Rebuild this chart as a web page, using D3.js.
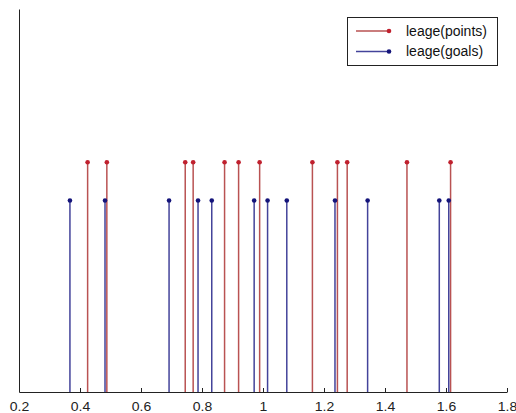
<!DOCTYPE html>
<html>
<head>
<meta charset="utf-8">
<script src="https://cdn.jsdelivr.net/npm/d3@7"></script>
<style>
  html, body { margin: 0; padding: 0; background: #fff; }
  svg { display: block; }
  .tick text { font-family: "Liberation Sans", Arial, sans-serif; }
</style>
</head>
<body>
<svg id="chart" width="516" height="413"></svg>
<script>
// stem positions (x) and heights (y) for the two series
const pointsX = [0.425, 0.488, 0.745, 0.771, 0.874, 0.920, 0.989, 1.162, 1.244, 1.276, 1.472, 1.615];
const pointsY = [3, 3, 3, 3, 3, 3, 3, 3, 3, 3, 3, 3];
const goalsX = [0.367, 0.482, 0.692, 0.787, 0.832, 0.971, 1.015, 1.078, 1.236, 1.343, 1.578, 1.609];
const goalsY = [2.5, 2.5, 2.5, 2.5, 2.5, 2.5, 2.5, 2.5, 2.5, 2.5, 2.5, 2.5];
const xTicks = [0.2, 0.4, 0.6, 0.8, 1, 1.2, 1.4, 1.6, 1.8];
const seriesNames = ['leage(points)', 'leage(goals)'];

const svg = d3.select('#chart');
const x = d3.scaleLinear().domain([0.2, 1.8]).range([19, 507]);
const y = d3.scaleLinear().domain([0, 5]).range([392, 9]);

const series = [
  { name: seriesNames[0], xs: pointsX, ys: pointsY, line: '#b95252', dot: '#c0202e' },
  { name: seriesNames[1], xs: goalsX, ys: goalsY, line: '#43439a', dot: '#14147a' }
];

// stems
series.forEach((s) => {
  const g = svg.append('g');
  const pts = s.xs.map((v, i) => [v, s.ys[i]]);
  g.selectAll('line')
    .data(pts)
    .join('line')
    .attr('x1', (d) => x(d[0]))
    .attr('x2', (d) => x(d[0]))
    .attr('y1', y(0))
    .attr('y2', (d) => y(d[1]))
    .attr('stroke', s.line)
    .attr('stroke-width', 1.5);
  g.selectAll('circle')
    .data(pts)
    .join('circle')
    .attr('cx', (d) => x(d[0]))
    .attr('cy', (d) => y(d[1]))
    .attr('r', 2.3)
    .attr('fill', s.dot);
});

// axes
const xAxis = svg.append('g')
  .attr('transform', `translate(0,${y(0)})`)
  .call(d3.axisBottom(x)
    .tickValues(xTicks)
    .tickFormat((d) => d)
    .tickSizeInner(-4)
    .tickSizeOuter(0)
    .tickPadding(10));
xAxis.selectAll('.tick text')
  .attr('font-size', 12.5)
  .attr('fill', '#222')
  .attr('transform', 'scale(1.12,1)');
xAxis.select('.domain').attr('stroke', '#222');
xAxis.selectAll('.tick line').attr('stroke', '#222');

svg.append('g')
  .attr('transform', `translate(${x(0.2)},0)`)
  .call(d3.axisLeft(y).tickValues([]).tickSizeOuter(0))
  .select('.domain').attr('stroke', '#222');

// legend
const legend = svg.append('g').attr('transform', 'translate(347,17)');
legend.append('rect')
  .attr('x', 0.5).attr('y', 0.5)
  .attr('width', 150).attr('height', 48)
  .attr('fill', '#fff')
  .attr('stroke', '#222');
series.forEach((s, i) => {
  const row = legend.append('g').attr('transform', `translate(0,${14 + i * 20.5})`);
  row.append('line')
    .attr('x1', 9).attr('x2', 42)
    .attr('stroke', s.line).attr('stroke-width', 1.5);
  row.append('circle').attr('cx', 42).attr('r', 2.3).attr('fill', s.dot);
  row.append('text')
    .attr('x', 59)
    .attr('dy', '0.35em')
    .attr('font-family', '"Liberation Sans", Arial, sans-serif')
    .attr('font-size', 14)
    .attr('fill', '#111')
    .text(s.name);
});
</script>
</body>
</html>
